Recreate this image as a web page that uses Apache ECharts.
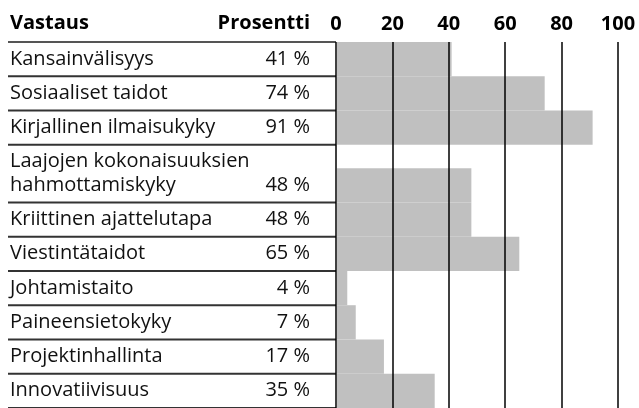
<!DOCTYPE html>
<html>
<head>
<meta charset="utf-8">
<script src="https://cdn.jsdelivr.net/npm/echarts@6/dist/echarts.min.js"></script>
<style>
  html, body { margin: 0; padding: 0; background: #fff; }
  #chart { width: 639px; height: 408px; }
</style>
</head>
<body>
<div id="chart"></div>
<script>
  // answers (one entry per table row, each row may wrap on several lines)
  const answers = [
    ['Kansainvälisyys'],
    ['Sosiaaliset taidot'],
    ['Kirjallinen ilmaisukyky'],
    ['Laajojen kokonaisuuksien', 'hahmottamiskyky'],
    ['Kriittinen ajattelutapa'],
    ['Viestintätaidot'],
    ['Johtamistaito'],
    ['Paineensietokyky'],
    ['Projektinhallinta'],
    ['Innovatiivisuus']
  ]
  const percents = [41, 74, 91, 48, 48, 65, 4, 7, 17, 35]
  const xTicks = [0, 20, 40, 60, 80, 100]
  const headers = ['Vastaus', 'Prosentti']

  const FONT = '"Open Sans", Lato, sans-serif'
  const ROW_H = 34.5 // one-line row
  const LINE_H = 23.5 // extra line inside a row
  const TABLE_LEFT = 8
  const TEXT_LEFT = 10
  const PCT_RIGHT = 310
  const HEAD_Y = 23.5

  // row boundaries in pixel units along the (inverted) y axis
  const rowStart = []
  const rowEnd = []
  let acc = 0
  answers.forEach(lines => {
    rowStart.push(acc)
    acc += ROW_H + (lines.length - 1) * LINE_H
    rowEnd.push(acc)
  })
  const totalH = acc

  const chart = echarts.init(document.getElementById('chart'))

  const option = {
    animation: false,
    grid: {
      left: 336,
      top: 42,
      width: 282,
      height: totalH
    },
    xAxis: {
      type: 'value',
      position: 'top',
      min: xTicks[0],
      max: xTicks[xTicks.length - 1],
      interval: xTicks[1] - xTicks[0],
      z: 10,
      axisLine: { show: false },
      axisTick: { show: false },
      axisLabel: {
        margin: 8,
        color: '#000',
        fontFamily: FONT,
        fontWeight: 'bold',
        fontSize: 20
      },
      splitLine: {
        show: true,
        lineStyle: { color: '#000', width: 1.5 }
      }
    },
    yAxis: {
      type: 'value',
      inverse: true,
      min: 0,
      max: totalH,
      show: false
    },
    graphic: [
      {
        type: 'text',
        x: TEXT_LEFT,
        y: HEAD_Y,
        style: {
          text: headers[0],
          align: 'left',
          verticalAlign: 'middle',
          font: 'bold 20px ' + FONT,
          fill: '#000'
        }
      },
      {
        type: 'text',
        x: PCT_RIGHT,
        y: HEAD_Y,
        style: {
          text: headers[1],
          align: 'right',
          verticalAlign: 'middle',
          font: 'bold 20px ' + FONT,
          fill: '#000'
        }
      }
    ],
    series: [
      {
        type: 'custom',
        clip: false,
        data: percents.map((v, i) => [v, i]),
        renderItem: (params, api) => {
          const i = params.dataIndex
          const v = api.value(0)
          const lines = answers[i]
          const top = api.coord([0, rowStart[i]])
          const end = api.coord([0, rowEnd[i]])
          const barTop = api.coord([0, rowEnd[i] - ROW_H])
          const barEnd = api.coord([v, rowEnd[i]])
          const children = []
          // grey bar over the last line of the row
          children.push({
            type: 'rect',
            shape: {
              x: barTop[0] + 1,
              y: barTop[1],
              width: barEnd[0] - barTop[0] - 1,
              height: end[1] - barTop[1]
            },
            style: { fill: '#c0c0c0' }
          })
          // table lines
          if (i === 0) {
            children.push({
              type: 'line',
              shape: { x1: TABLE_LEFT, y1: top[1], x2: top[0], y2: top[1] },
              style: { stroke: '#555', lineWidth: 2 }
            })
          }
          children.push({
            type: 'line',
            shape: { x1: TABLE_LEFT, y1: end[1], x2: end[0], y2: end[1] },
            style: { stroke: '#333', lineWidth: 2 }
          })
          // answer text
          lines.forEach((t, k) => {
            const cy = end[1] - ROW_H / 2 - (lines.length - 1 - k) * LINE_H
            children.push({
              type: 'text',
              style: {
                text: t,
                x: TEXT_LEFT,
                y: cy,
                align: 'left',
                verticalAlign: 'middle',
                font: '20px ' + FONT,
                fill: '#111'
              }
            })
          })
          children.push({
            type: 'text',
            style: {
              text: v + ' %',
              x: PCT_RIGHT,
              y: end[1] - ROW_H / 2,
              align: 'right',
              verticalAlign: 'middle',
              font: '20px ' + FONT,
              fill: '#111'
            }
          })
          return { type: 'group', children }
        }
      }
    ]
  }

  chart.setOption(option)
</script>
</body>
</html>
